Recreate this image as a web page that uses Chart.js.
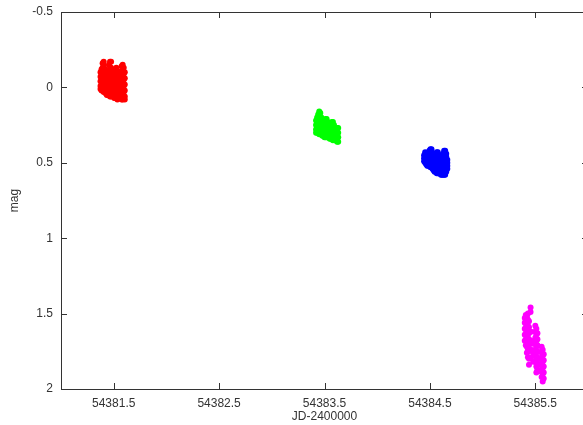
<!DOCTYPE html>
<html>
<head>
<meta charset="utf-8">
<script src="https://cdn.jsdelivr.net/npm/chart.js@4.4.1/dist/chart.umd.min.js"></script>
<style>
  html, body { margin: 0; padding: 0; overflow: hidden; background: #fff; }
  #wrap { width: 600px; height: 425px; }
</style>
</head>
<body>
<div id="wrap"><canvas id="lc" width="600" height="425"></canvas></div>
<script>
// tick labels
const xTicks = [54381.5, 54382.5, 54383.5, 54384.5, 54385.5];
const yTicks = [-0.5, 0, 0.5, 1, 1.5, 2];

// each night: [JD-2400000, [mags at that time]]
const redNight = [
  [54381.375, [-0.10, -0.07, -0.04, -0.01, 0.01]],
  [54381.385, [-0.12, -0.08, -0.04, 0.00, 0.02]],
  [54381.395, [-0.16, -0.13, -0.09, -0.05, -0.01, 0.02]],
  [54381.405, [-0.17, -0.14, -0.10, -0.06, -0.02, 0.01, 0.03]],
  [54381.415, [-0.12, -0.08, -0.04, 0.00, 0.03]],
  [54381.425, [-0.07, -0.03, 0.01, 0.04]],
  [54381.435, [-0.06, -0.02, 0.02, 0.05]],
  [54381.445, [-0.10, -0.06, -0.02, 0.02, 0.05]],
  [54381.455, [-0.15, -0.11, -0.07, -0.03, 0.01, 0.04]],
  [54381.465, [-0.17, -0.13, -0.09, -0.05, -0.01, 0.03, 0.06]],
  [54381.475, [-0.17, -0.13, -0.09, -0.05, -0.01, 0.03, 0.06]],
  [54381.485, [-0.11, -0.07, -0.03, 0.01, 0.05]],
  [54381.495, [-0.06, -0.02, 0.02, 0.06]],
  [54381.505, [-0.08, -0.04, 0.00, 0.04, 0.07]],
  [54381.515, [-0.12, -0.08, -0.04, 0.00, 0.04, 0.07]],
  [54381.525, [-0.13, -0.09, -0.05, -0.01, 0.03, 0.07]],
  [54381.535, [-0.11, -0.07, -0.03, 0.01, 0.05, 0.08]],
  [54381.545, [-0.06, -0.02, 0.02, 0.06]],
  [54381.555, [-0.05, -0.01, 0.03, 0.07]],
  [54381.565, [-0.09, -0.05, -0.01, 0.03, 0.07]],
  [54381.575, [-0.14, -0.10, -0.06, -0.02, 0.02, 0.06, 0.08]],
  [54381.585, [-0.15, -0.11, -0.07, -0.03, 0.01, 0.05, 0.08]],
  [54381.595, [-0.13, -0.09, -0.05, -0.01, 0.03, 0.07]],
  [54381.605, [-0.10, -0.06, -0.02, 0.02, 0.06, 0.08]],
];

const greenNight = [
  [54383.420, [0.22, 0.25, 0.28, 0.30]],
  [54383.430, [0.20, 0.23, 0.26, 0.29, 0.30]],
  [54383.440, [0.18, 0.21, 0.24, 0.27, 0.30]],
  [54383.450, [0.16, 0.19, 0.22, 0.25, 0.28, 0.31]],
  [54383.460, [0.17, 0.20, 0.23, 0.26, 0.29, 0.31]],
  [54383.470, [0.20, 0.23, 0.26, 0.29, 0.31]],
  [54383.480, [0.24, 0.27, 0.30, 0.32]],
  [54383.490, [0.25, 0.28, 0.31, 0.32]],
  [54383.500, [0.22, 0.25, 0.28, 0.31, 0.33]],
  [54383.510, [0.21, 0.24, 0.27, 0.30, 0.33]],
  [54383.520, [0.21, 0.24, 0.27, 0.30, 0.33]],
  [54383.530, [0.23, 0.26, 0.29, 0.32, 0.33]],
  [54383.540, [0.27, 0.30, 0.33]],
  [54383.550, [0.28, 0.31, 0.34]],
  [54383.560, [0.25, 0.28, 0.31, 0.34]],
  [54383.570, [0.23, 0.26, 0.29, 0.32, 0.34]],
  [54383.580, [0.23, 0.26, 0.29, 0.32, 0.35]],
  [54383.590, [0.25, 0.28, 0.31, 0.34]],
  [54383.600, [0.29, 0.32, 0.35]],
  [54383.610, [0.29, 0.32, 0.35]],
  [54383.620, [0.27, 0.30, 0.33, 0.36]],
  [54383.630, [0.27, 0.30, 0.33, 0.36]],
];

const blueNight = [
  [54384.445, [0.45, 0.47, 0.49]],
  [54384.455, [0.43, 0.45, 0.47, 0.49, 0.50]],
  [54384.465, [0.44, 0.46, 0.48, 0.50, 0.51]],
  [54384.475, [0.46, 0.48, 0.50, 0.52]],
  [54384.485, [0.45, 0.47, 0.49, 0.51, 0.52]],
  [54384.495, [0.42, 0.44, 0.46, 0.48, 0.50, 0.52]],
  [54384.505, [0.41, 0.43, 0.45, 0.47, 0.49, 0.51, 0.53]],
  [54384.515, [0.41, 0.43, 0.45, 0.47, 0.49, 0.51, 0.53]],
  [54384.525, [0.44, 0.46, 0.48, 0.50, 0.52, 0.54]],
  [54384.535, [0.48, 0.50, 0.52, 0.54, 0.55]],
  [54384.545, [0.48, 0.50, 0.52, 0.54, 0.56]],
  [54384.555, [0.45, 0.47, 0.49, 0.51, 0.53, 0.55, 0.56]],
  [54384.565, [0.43, 0.45, 0.47, 0.49, 0.51, 0.53, 0.55, 0.57]],
  [54384.575, [0.43, 0.45, 0.47, 0.49, 0.51, 0.53, 0.55, 0.57]],
  [54384.585, [0.45, 0.47, 0.49, 0.51, 0.53, 0.55, 0.57]],
  [54384.595, [0.49, 0.51, 0.53, 0.55, 0.57]],
  [54384.605, [0.50, 0.52, 0.54, 0.56, 0.58]],
  [54384.615, [0.47, 0.49, 0.51, 0.53, 0.55, 0.57, 0.58]],
  [54384.625, [0.44, 0.46, 0.48, 0.50, 0.52, 0.54, 0.56, 0.58]],
  [54384.635, [0.42, 0.44, 0.46, 0.48, 0.50, 0.52, 0.54, 0.56, 0.58]],
  [54384.645, [0.42, 0.44, 0.46, 0.48, 0.50, 0.52, 0.54, 0.56, 0.58]],
  [54384.655, [0.44, 0.46, 0.48, 0.50, 0.52, 0.54, 0.56]],
  [54384.665, [0.48, 0.50, 0.52, 0.54]],
];

const magentaNight = [
  [54385.400, [1.53, 1.56, 1.60, 1.64, 1.68]],
  [54385.410, [1.51, 1.55, 1.59, 1.63, 1.67, 1.71]],
  [54385.420, [1.52, 1.56, 1.60, 1.64, 1.68, 1.72, 1.76]],
  [54385.430, [1.50, 1.54, 1.58, 1.62, 1.66, 1.70, 1.74, 1.79]],
  [54385.440, [1.55, 1.59, 1.63, 1.67, 1.71, 1.75, 1.80, 1.84]],
  [54385.455, [1.46, 1.49]],
  [54385.460, [1.62, 1.68, 1.74, 1.79]],
  [54385.480, [1.70, 1.76, 1.82]],
  [54385.500, [1.58, 1.62, 1.66, 1.70, 1.74, 1.78, 1.82]],
  [54385.510, [1.60, 1.64, 1.68, 1.72, 1.76, 1.80, 1.85, 1.89]],
  [54385.520, [1.63, 1.67, 1.71, 1.75, 1.79, 1.83, 1.87]],
  [54385.540, [1.80, 1.84, 1.88]],
  [54385.560, [1.72, 1.76, 1.80, 1.84, 1.88, 1.92]],
  [54385.570, [1.74, 1.78, 1.82, 1.86, 1.90, 1.95]],
  [54385.580, [1.77, 1.81, 1.85, 1.89, 1.93]],
];

const toPoints = (night) => night.flatMap(([jd, mags]) => mags.map((m) => ({ x: jd, y: m })));

const series = [
  { data: redNight, color: '#ff0000' },
  { data: greenNight, color: '#00ff00' },
  { data: blueNight, color: '#0000ff' },
  { data: magentaNight, color: '#ff00ff' },
];

const font = { family: '"Liberation Sans", Arial, sans-serif', size: 12 };
const ink = '#333333';

// gnuplot style box with inward ticks on every side
const framePlugin = {
  id: 'frame',
  afterDraw(chart) {
    const { ctx, chartArea: a, scales } = chart;
    const len = 6;
    ctx.save();
    ctx.strokeStyle = ink;
    ctx.lineWidth = 1;
    ctx.beginPath();
    xTicks.forEach((v) => {
      const px = Math.round(scales.x.getPixelForValue(v)) + 0.5;
      ctx.moveTo(px, a.bottom); ctx.lineTo(px, a.bottom - len);
      ctx.moveTo(px, a.top); ctx.lineTo(px, a.top + len);
    });
    yTicks.forEach((v) => {
      const py = Math.round(scales.y.getPixelForValue(v)) + 0.5;
      ctx.moveTo(a.left, py); ctx.lineTo(a.left + len, py);
      ctx.moveTo(a.right, py); ctx.lineTo(a.right - len, py);
    });
    ctx.stroke();
    ctx.strokeRect(Math.round(a.left) + 0.5, Math.round(a.top) + 0.5,
      Math.round(a.right - a.left), Math.round(a.bottom - a.top));
    ctx.restore();
  },
};

new Chart(document.getElementById('lc'), {
  type: 'scatter',
  data: {
    datasets: series.map((s) => ({
      data: toPoints(s.data),
      backgroundColor: s.color,
      borderColor: s.color,
      borderWidth: 0,
      pointRadius: 3,
    })),
  },
  options: {
    responsive: false,
    animation: false,
    layout: { padding: { top: 12, right: 12, left: 0, bottom: 0 } },
    plugins: { legend: { display: false }, tooltip: { enabled: false } },
    scales: {
      x: {
        type: 'linear',
        min: 54381,
        max: 54386,
        grid: { display: false, drawTicks: false },
        border: { display: false },
        afterBuildTicks: (scale) => { scale.ticks = xTicks.map((v) => ({ value: v })); },
        afterFit: (scale) => { scale.height = 36; scale.paddingLeft = 0; scale.paddingRight = 0; },
        ticks: { color: ink, font, padding: 7, maxRotation: 0, callback: (v) => String(v) },
        title: { display: true, text: 'JD-2400000', color: ink, font, padding: { top: 0, bottom: 1 } },
      },
      y: {
        type: 'linear',
        reverse: true,
        min: -0.5,
        max: 2,
        grid: { display: false, drawTicks: false },
        border: { display: false },
        afterBuildTicks: (scale) => { scale.ticks = yTicks.map((v) => ({ value: v })); },
        afterFit: (scale) => { scale.width = 61; scale.paddingTop = 0; scale.paddingBottom = 0; },
        ticks: { color: ink, font, padding: 8, callback: (v) => String(v) },
        title: { display: true, text: 'mag', color: ink, font, padding: { top: 7, bottom: 0 } },
      },
    },
  },
  plugins: [framePlugin],
});
</script>
</body>
</html>
